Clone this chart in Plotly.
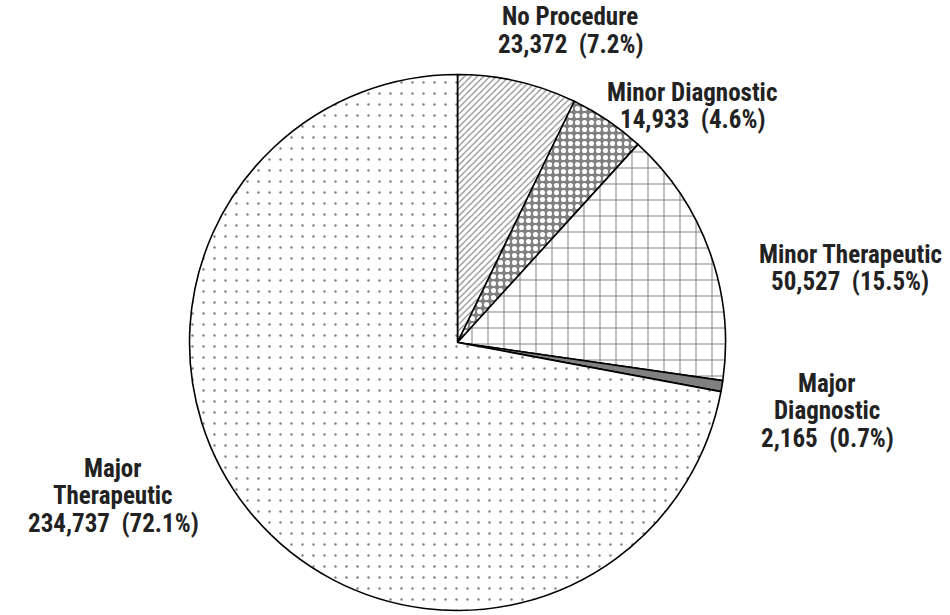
import plotly.graph_objects as go

# Procedure categories, clockwise from 12 o'clock
categories = ["No Procedure", "Minor Diagnostic", "Minor Therapeutic",
              "Major Diagnostic", "Major Therapeutic"]
counts = [23372, 14933, 50527, 2165, 234737]
percents = [7.2, 4.6, 15.5, 0.7, 72.1]
label_lines = [["No Procedure"], ["Minor Diagnostic"], ["Minor Therapeutic"],
               ["Major", "Diagnostic"], ["Major", "Therapeutic"]]

GRAY = "#808080"
patterns = [
    dict(shape="/", fgcolor=GRAY, bgcolor="white", size=4.5, solidity=0.25),
    dict(shape=".", fgcolor="white", bgcolor=GRAY, size=7, solidity=0.42),
    dict(shape="+", fgcolor=GRAY, bgcolor="white", size=16, solidity=0.12),
    dict(shape="", fgcolor=GRAY, bgcolor=GRAY),
    dict(shape=".", fgcolor=GRAY, bgcolor="white", size=11, solidity=0.04),
]
fills = ["white", GRAY, "white", GRAY, "white"]

fig = go.Figure(go.Pie(
    labels=categories,
    values=counts,
    sort=False,
    direction="clockwise",
    rotation=0,
    textinfo="none",
    hoverinfo="label+value+percent",
    showlegend=False,
    marker=dict(colors=fills, pattern=dict(
        shape=[p["shape"] for p in patterns],
        fgcolor=[p["fgcolor"] for p in patterns],
        bgcolor=[p["bgcolor"] for p in patterns],
        size=[p.get("size", 8) for p in patterns],
        solidity=[p.get("solidity", 0.3) for p in patterns],
        fillmode="replace",
    ), line=dict(color="black", width=1.6)),
    domain=dict(x=[0.1995, 0.7637], y=[0.0073, 0.8789]),
))

# Outside labels: (x center px, y of first line px)
label_pos = [(570, 17), (692, 92), (850, 254), (827, 383), (113, 468)]
W, H = 950, 615
LINE = 27.5
for name_lines, n, p, (cx, cy) in zip(label_lines, counts, percents, label_pos):
    lines = name_lines + [f"{n:,}\u00a0 ({p}%)"]
    for i, t in enumerate(lines):
        fig.add_annotation(
            x=cx / W, y=1 - (cy + i * LINE) / H, xref="paper", yref="paper",
            text=f"<b>{t}</b>", showarrow=False, xanchor="center", yanchor="middle",
            font=dict(family="Roboto Condensed, Liberation Sans, Arial",
                      size=25, color="#222222"),
        )

fig.update_layout(
    width=W, height=H,
    margin=dict(l=0, r=0, t=0, b=0),
    paper_bgcolor="white", plot_bgcolor="white",
)
fig.write_html("out.html")
